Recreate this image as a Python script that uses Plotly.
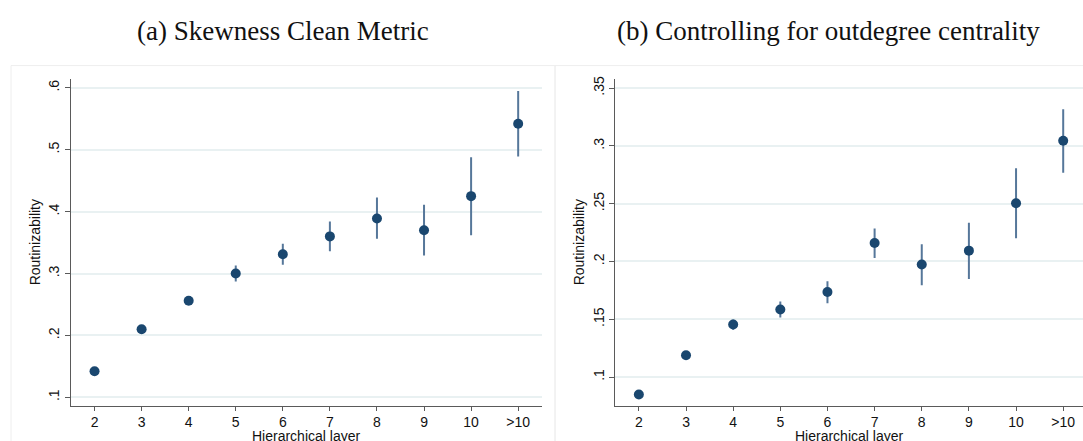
import plotly.graph_objects as go

# Hierarchical layers (x categories)
layers = ["2", "3", "4", "5", "6", "7", "8", "9", "10", ">10"]

# (a) Skewness clean metric: point estimates and 95% CI bounds
skew_est = [0.142, 0.210, 0.256, 0.300, 0.331, 0.360, 0.389, 0.370, 0.425, 0.542]
skew_lo = [0.140, 0.207, 0.249, 0.287, 0.314, 0.336, 0.356, 0.329, 0.362, 0.489]
skew_hi = [0.144, 0.213, 0.263, 0.313, 0.348, 0.384, 0.423, 0.411, 0.488, 0.595]

# (b) Controlling for outdegree centrality
outdeg_est = [0.0849, 0.1189, 0.1455, 0.1584, 0.1736, 0.2160, 0.1974, 0.2094, 0.2503, 0.3045]
outdeg_lo = [0.0840, 0.1175, 0.1410, 0.1515, 0.1639, 0.2031, 0.1794, 0.1848, 0.2200, 0.2767]
outdeg_hi = [0.0858, 0.1203, 0.1498, 0.1653, 0.1830, 0.2286, 0.2149, 0.2335, 0.2807, 0.3317]

# Tick labels for the two y-axes
skew_ticks = [0.1, 0.2, 0.3, 0.4, 0.5, 0.6]
skew_ticktext = [".1", ".2", ".3", ".4", ".5", ".6"]
outdeg_ticks = [0.10, 0.15, 0.20, 0.25, 0.30, 0.35]
outdeg_ticktext = [".1", ".15", ".2", ".25", ".3", ".35"]

W, H = 1083, 441
MARKER = "#1a476f"
SPIKE = "#56779a"
GRID = "#e9f1f2"
AXIS = "#5a5a5a"
LABEL_FONT = "Liberation Sans, Arial, sans-serif"
TITLE_FONT = "Liberation Serif, Times New Roman, serif"


def px_x(p):
    return p / W


def px_y(p):
    return 1 - p / H


def ci_trace(est, lo, hi, xaxis, yaxis):
    return go.Scatter(
        x=layers,
        y=est,
        mode="markers",
        marker=dict(color=MARKER, size=10, line=dict(width=0)),
        error_y=dict(
            type="data",
            symmetric=False,
            array=[h - e for h, e in zip(hi, est)],
            arrayminus=[e - l for e, l in zip(est, lo)],
            color=SPIKE,
            thickness=2,
            width=0,
        ),
        xaxis=xaxis,
        yaxis=yaxis,
        showlegend=False,
        hoverinfo="x+y",
    )


fig = go.Figure()
fig.add_trace(ci_trace(skew_est, skew_lo, skew_hi, "x", "y"))
fig.add_trace(ci_trace(outdeg_est, outdeg_lo, outdeg_hi, "x2", "y2"))

y_dom = [px_y(405.3), px_y(76.7)]

common_x = dict(
    type="category",
    showline=True,
    linecolor=AXIS,
    linewidth=1,
    ticks="outside",
    ticklen=4,
    tickcolor=AXIS,
    tickfont=dict(family=LABEL_FONT, size=14, color="#111111"),
    showgrid=False,
    zeroline=False,
    fixedrange=True,
)
common_y = dict(
    showline=True,
    linecolor=AXIS,
    linewidth=1,
    ticks="outside",
    ticklen=5,
    tickcolor=AXIS,
    tickangle=-90,
    tickfont=dict(family=LABEL_FONT, size=14, color="#111111"),
    showgrid=True,
    gridcolor=GRID,
    gridwidth=1.5,
    zeroline=False,
    fixedrange=True,
    domain=y_dom,
)

fig.update_layout(
    width=W,
    height=H,
    margin=dict(l=0, r=0, t=0, b=0),
    paper_bgcolor="white",
    plot_bgcolor="white",
    xaxis=dict(common_x, domain=[px_x(71), px_x(541.7)], range=[-0.5, 9.5], anchor="y"),
    yaxis=dict(common_y, range=[0.0867, 0.614], tickvals=skew_ticks,
               ticktext=skew_ticktext, anchor="x"),
    xaxis2=dict(common_x, domain=[px_x(615.3), 1.0], range=[-0.5, 9.42], anchor="y2"),
    yaxis2=dict(common_y, range=[0.0754, 0.3577], tickvals=outdeg_ticks,
                ticktext=outdeg_ticktext, anchor="x2"),
)

# Graph-region frames
fig.add_shape(type="rect", xref="paper", yref="paper",
              x0=px_x(11), x1=px_x(555), y0=px_y(460), y1=px_y(63),
              line=dict(color="#eeeeee", width=1), fillcolor="rgba(0,0,0,0)", layer="below")
fig.add_shape(type="rect", xref="paper", yref="paper",
              x0=px_x(555), x1=px_x(1100), y0=px_y(460), y1=px_y(63),
              line=dict(color="#eeeeee", width=1), fillcolor="rgba(0,0,0,0)", layer="below")

# Panel titles
fig.add_annotation(text="(a) Skewness Clean Metric", xref="paper", yref="paper",
                   x=px_x(283), y=px_y(28), showarrow=False, xanchor="center", yanchor="middle",
                   font=dict(family=TITLE_FONT, size=27, color="#111111"))
fig.add_annotation(text="(b) Controlling for outdegree centrality", xref="paper", yref="paper",
                   x=px_x(828), y=px_y(28), showarrow=False, xanchor="center", yanchor="middle",
                   font=dict(family=TITLE_FONT, size=27, color="#111111"))

# Axis titles
for cx, lx in [(306.4, 35), (849.2, 579)]:
    fig.add_annotation(text="Hierarchical layer", xref="paper", yref="paper",
                       x=px_x(cx), y=px_y(427), showarrow=False, xanchor="center", yanchor="top",
                       borderpad=0,
                       font=dict(family=LABEL_FONT, size=14, color="#111111"))
    fig.add_annotation(text="Routinizability", xref="paper", yref="paper",
                       x=px_x(lx), y=px_y(241), showarrow=False, textangle=-90,
                       xanchor="center", yanchor="middle",
                       font=dict(family=LABEL_FONT, size=14, color="#111111"))

fig.write_html("out.html")
